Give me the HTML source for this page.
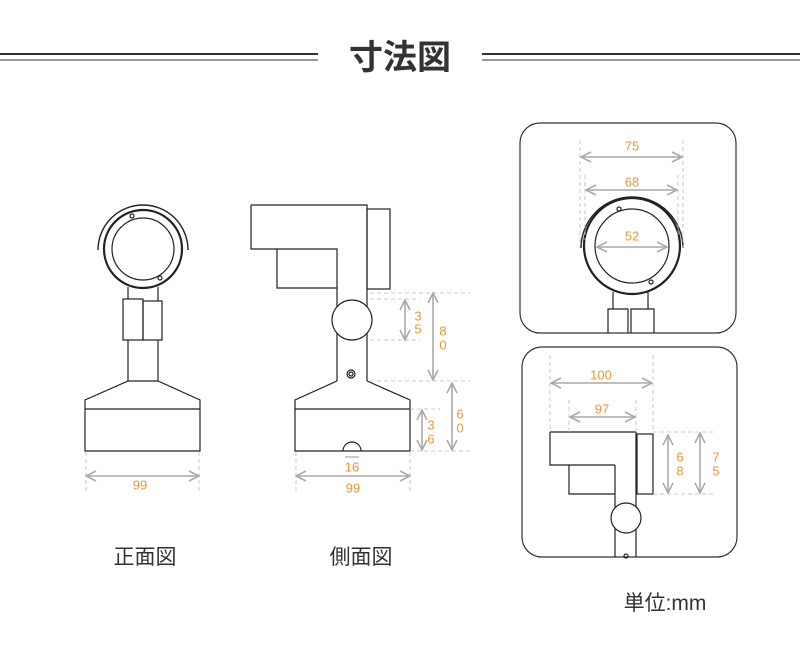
<!DOCTYPE html>
<html><head><meta charset="utf-8"><style>
html,body{margin:0;padding:0;background:#fff;}
svg{display:block;}
text{font-family:"Liberation Sans","Noto Sans CJK JP",sans-serif;}
.o{fill:#e8963c;font-size:13px;text-anchor:middle;dominant-baseline:central;}
.k{fill:none;stroke:#222;stroke-width:1.2;}
.d{stroke:#aaa;stroke-width:1.6;fill:none;marker-start:url(#a);marker-end:url(#a);}
.e{stroke:#bbb;stroke-width:0.8;stroke-dasharray:4 3;fill:none;}
</style></head><body>
<svg width="800" height="650" viewBox="0 0 800 650" xmlns="http://www.w3.org/2000/svg">
<defs><marker id="a" viewBox="0 0 12 12" refX="11" refY="6" markerWidth="12" markerHeight="12" markerUnits="userSpaceOnUse" orient="auto-start-reverse"><path d="M1 1 L11 6 L1 11" fill="none" stroke="#aaa" stroke-width="1.6"/></marker></defs>
<!-- title -->
<line x1="0" y1="54" x2="318" y2="54" stroke="#333" stroke-width="2"/>
<line x1="0" y1="60" x2="318" y2="60" stroke="#333" stroke-width="1"/>
<line x1="482" y1="54" x2="800" y2="54" stroke="#333" stroke-width="2"/>
<line x1="482" y1="60" x2="800" y2="60" stroke="#333" stroke-width="1"/>
<text x="400" y="69" font-size="34" font-weight="bold" text-anchor="middle" fill="#333">寸法図</text>

<!-- front view -->
<g class="k">
<path d="M98 250 A45 45 0 0 1 188 250" stroke-width="1.4"/>
<circle cx="143" cy="249" r="39" stroke-width="2.2"/>
<circle cx="143" cy="249" r="31"/>
<circle cx="132" cy="216" r="2"/><circle cx="160" cy="278" r="2"/>
<path d="M128 287 V299 M158 287 V301"/>
<rect x="123" y="299" width="20" height="41"/>
<rect x="143" y="301" width="19" height="39"/>
<path d="M128 340 V381 M158 340 V381"/>
<path d="M128 381 L85 400 V451 H200 V400 L158 381 Z M85 409 H200"/>
</g>
<path class="e" d="M86 452 V493 M199 452 V493"/>
<line class="d" x1="86" y1="476" x2="199" y2="476"/>
<text class="o" x="140" y="485">99</text>

<!-- side view -->
<g class="k">
<path d="M251 205 H367 V381 M251 205 V249 H337 V381 M277 249 V288 H337"/>
<rect x="367" y="209" width="23" height="80"/>
<circle cx="352" cy="320" r="20" fill="#fff"/>
<circle cx="351" cy="374" r="4"/><circle cx="351" cy="374" r="2"/>
<path d="M337 381 L295 400 V451 H410 V400 L367 381 M295 409 H410"/>
<path d="M343 451 A9 9 0 0 1 361 451"/>
</g>
<path class="e" d="M370 293 H470 M370 299 H420 M370 340 H420 M370 381 H470 M410 409 H440 M410 451 H470 M296 452 V493 M410 452 V493"/>
<line class="d" x1="405" y1="300" x2="405" y2="340"/>
<line class="d" x1="433" y1="293" x2="433" y2="380"/>
<line class="d" x1="422" y1="410" x2="422" y2="450"/>
<line class="d" x1="452" y1="383" x2="452" y2="450"/>
<line x1="345" y1="457" x2="359" y2="457" stroke="#aaa" stroke-width="1.2"/>
<text class="o" x="418" y="316">3</text><text class="o" x="418" y="329">5</text>
<text class="o" x="443" y="331">8</text><text class="o" x="443" y="345">0</text>
<text class="o" x="431" y="425">3</text><text class="o" x="431" y="439">6</text>
<text class="o" x="460" y="414">6</text><text class="o" x="460" y="428">0</text>
<text class="o" x="352" y="467">16</text>
<line class="d" x1="296" y1="476" x2="410" y2="476"/>
<text class="o" x="353" y="488">99</text>

<!-- top panel -->
<rect x="520" y="123" width="216" height="210" rx="20" fill="none" stroke="#333" stroke-width="1.2"/>
<g class="k">
<path d="M581 248 A51 51 0 0 1 683 248" stroke-width="1.4"/>
<circle cx="632" cy="246" r="48" stroke-width="2.2"/>
<circle cx="632" cy="246" r="37"/>
<circle cx="619" cy="209" r="2"/><circle cx="651" cy="282" r="2"/>
<path d="M613 292 V309 M648 292 V309"/>
<path d="M608 333 V309 H628 V333 M631 333 V309 H654 V333"/>
</g>
<path class="e" d="M580 140 V248 M683 140 V248 M585 175 V240 M678 175 V240"/>
<line class="d" x1="581" y1="157" x2="682" y2="157"/>
<line class="d" x1="586" y1="190" x2="677" y2="190"/>
<line class="d" x1="597" y1="247" x2="667" y2="247"/>
<text class="o" x="632" y="146" font-size="14">75</text>
<text class="o" x="632" y="182" font-size="14">68</text>
<text class="o" x="632" y="236" font-size="14">52</text>

<!-- bottom panel -->
<rect x="522" y="347" width="215" height="210" rx="20" fill="none" stroke="#333" stroke-width="1.2"/>
<g class="k">
<path d="M550 432 H636 M550 432 V465 H569 V494 H615 V557 M615 465 H569 M615 465 V494 M636 432 V557"/>
<rect x="637" y="434" width="16" height="60"/>
<circle cx="626" cy="518" r="15" fill="#fff"/>
<circle cx="626" cy="556" r="2"/>
</g>
<path class="e" d="M550 355 V432 M653 355 V432 M569 400 V432 M636 400 V432 M653 432 H715 M653 494 H715"/>
<line class="d" x1="551" y1="383" x2="652" y2="383"/>
<line class="d" x1="570" y1="417" x2="635" y2="417"/>
<line class="d" x1="668" y1="435" x2="668" y2="493"/>
<line class="d" x1="700" y1="433" x2="700" y2="493"/>
<text class="o" x="601" y="375" font-size="15">100</text>
<text class="o" x="602" y="409" font-size="15">97</text>
<text class="o" x="680" y="457" font-size="15">6</text><text class="o" x="680" y="471" font-size="15">8</text>
<text class="o" x="716" y="457" font-size="15">7</text><text class="o" x="716" y="471" font-size="15">5</text>

<text x="145" y="564" font-size="21" text-anchor="middle" fill="#333">正面図</text>
<text x="361" y="564" font-size="21" text-anchor="middle" fill="#333">側面図</text>
<text x="665" y="610" font-size="21" text-anchor="middle" fill="#333">単位:mm</text>
</svg>
</body></html>
